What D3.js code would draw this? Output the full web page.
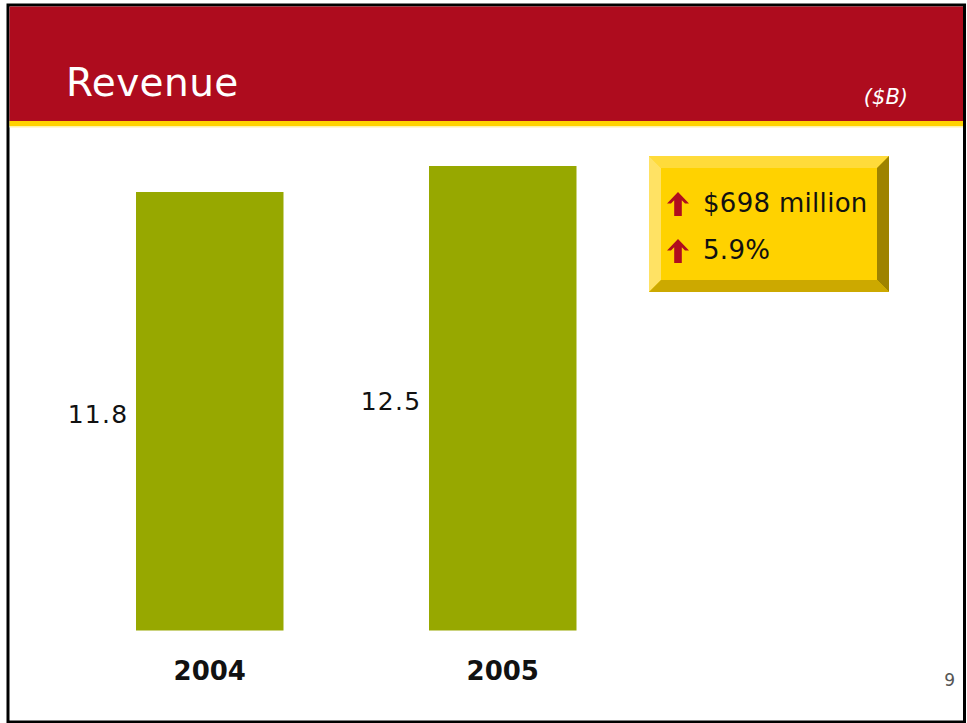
<!DOCTYPE html>
<html>
<head>
<meta charset="utf-8">
<title>Revenue</title>
<script src="https://cdn.jsdelivr.net/npm/d3@7/dist/d3.min.js"></script>
<style>
  html, body { margin: 0; padding: 0; background: #ffffff; }
  svg { display: block; }
  text { font-family: "DejaVu Sans", Verdana, sans-serif; }
</style>
</head>
<body>
<svg id="chart" width="967" height="723"></svg>
<script>
// Revenue by year, in billions of dollars
const years = ["2004", "2005"];
const revenue = [11.8, 12.5];

// Year-over-year change shown in the callout
const changeLines = ["$698 million", "5.9%"];

const title = "Revenue";
const unitLabel = "($B)";
const pageNumber = "9";

const W = 967, H = 723;
const svg = d3.select("#chart");

// Slide frame and header band
svg.append("rect")
  .attr("x", 8).attr("y", 5).attr("width", 956.5).attr("height", 717)
  .attr("fill", "#ffffff").attr("stroke", "#000000").attr("stroke-width", 3);

svg.append("rect")
  .attr("x", 9.5).attr("y", 6.5).attr("width", 953.5).attr("height", 114.5)
  .attr("fill", "#ae0c1e");
svg.append("rect")
  .attr("x", 9.5).attr("y", 121).attr("width", 953.5).attr("height", 5)
  .attr("fill", "#ffd200");
svg.append("rect")
  .attr("x", 9.5).attr("y", 126).attr("width", 953.5).attr("height", 1.5)
  .attr("fill", "#fff2a8");

svg.append("text")
  .attr("x", 66).attr("y", 96)
  .attr("fill", "#ffffff")
  .attr("font-size", 39)
  .attr("letter-spacing", 0.4)
  .text(title);

svg.append("text")
  .attr("x", 908).attr("y", 104)
  .attr("text-anchor", "end")
  .attr("fill", "#ffffff")
  .attr("font-size", 21)
  .attr("font-style", "italic")
  .text(unitLabel);

// Scales
const x = d3.scaleBand()
  .domain(years)
  .range([136, 576.5])
  .paddingInner(0.4966)
  .paddingOuter(0);

const y = d3.scaleLinear()
  .domain([0, 12.5])
  .range([630.5, 166]);

const data = years.map((yr, i) => ({ year: yr, value: revenue[i] }));

// Bars
svg.append("g")
  .selectAll("rect")
  .data(data)
  .join("rect")
  .attr("x", d => x(d.year))
  .attr("y", d => y(d.value))
  .attr("width", x.bandwidth())
  .attr("height", d => y(0) - y(d.value))
  .attr("fill", "#97a800");

// Value labels to the left of each bar, at mid height
svg.append("g")
  .selectAll("text")
  .data(data)
  .join("text")
  .attr("x", d => x(d.year) - 7.5)
  .attr("y", d => (y(d.value) + y(0)) / 2 + 11.5)
  .attr("text-anchor", "end")
  .attr("font-size", 25)
  .attr("letter-spacing", 1.3)
  .attr("fill", "#111111")
  .text(d => d3.format(".1f")(d.value));

// Category axis (labels only)
const xAxis = d3.axisBottom(x).tickSize(0).tickPadding(0);
const axisG = svg.append("g")
  .attr("transform", "translate(0,661)")
  .call(xAxis);
axisG.select(".domain").remove();
axisG.selectAll("text")
  .attr("font-family", "'DejaVu Sans', Verdana, sans-serif")
  .attr("font-size", 26)
  .attr("font-weight", "bold")
  .attr("fill", "#111111")
  .attr("dy", "0.74em");

// Bevelled callout box
const bx = 649, by = 156, bw = 240, bh = 136, bv = 12;
const box = svg.append("g");
box.append("rect").attr("x", bx).attr("y", by).attr("width", bw).attr("height", bh).attr("fill", "#ffd200");
box.append("polygon")
  .attr("points", [[bx, by], [bx + bw, by], [bx + bw - bv, by + bv], [bx + bv, by + bv]].join(" "))
  .attr("fill", "#ffdb3a");
box.append("polygon")
  .attr("points", [[bx, by], [bx + bv, by + bv], [bx + bv, by + bh - bv], [bx, by + bh]].join(" "))
  .attr("fill", "#ffe264");
box.append("polygon")
  .attr("points", [[bx + bw, by], [bx + bw, by + bh], [bx + bw - bv, by + bh - bv], [bx + bw - bv, by + bv]].join(" "))
  .attr("fill", "#9e8300");
box.append("polygon")
  .attr("points", [[bx, by + bh], [bx + bv, by + bh - bv], [bx + bw - bv, by + bh - bv], [bx + bw, by + bh]].join(" "))
  .attr("fill", "#cca900");

// Up-arrow glyph, drawn around its tip at (0,0)
const arrowPath = "M0,0 L11,11.5 L7,11.5 L3.8,8.3 L3.8,24 L-3.8,24 L-3.8,8.3 L-7,11.5 L-11,11.5 Z";

const lines = box.selectAll("g.line")
  .data(changeLines)
  .join("g")
  .attr("class", "line")
  .attr("transform", (d, i) => `translate(0,${i * 47})`);

lines.append("path")
  .attr("d", arrowPath)
  .attr("transform", "translate(678,192)")
  .attr("fill", "#b00d1e");

lines.append("text")
  .attr("x", 703).attr("y", 211.5)
  .attr("font-size", 26)
  .attr("letter-spacing", 0.3)
  .attr("fill", "#111111")
  .text(d => d);

// Page number
svg.append("text")
  .attr("x", 955).attr("y", 686)
  .attr("text-anchor", "end")
  .attr("font-size", 17)
  .attr("fill", "#555555")
  .text(pageNumber);
</script>
</body>
</html>
